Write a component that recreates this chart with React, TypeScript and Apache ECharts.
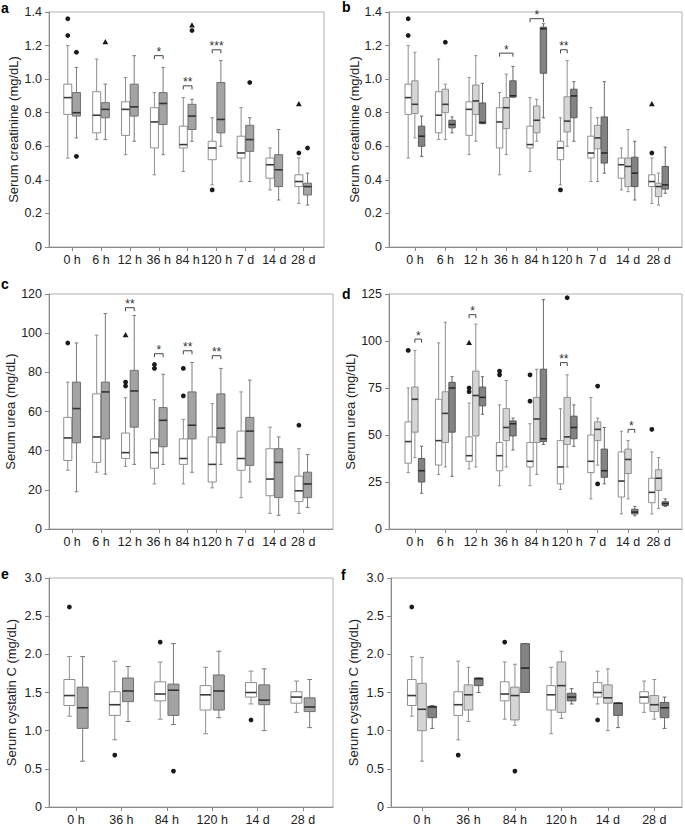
import React, { useEffect, useRef } from "react";
import * as echarts from "echarts";

// ---------- categories / tick labels ----------
const timeCats = ["0 h", "6 h", "12 h", "36 h", "84 h", "120 h", "7 d", "14 d", "28 d"];
const cystatinCats = ["0 h", "36 h", "84 h", "120 h", "14 d", "28 d"];

// ---------- box values: [min, Q1, median, Q3, max] per category ----------
// creatinine (panels a, b)
const creatNoAKI = [
  [0.53, 0.79, 0.89, 0.97, 1.2],
  [0.64, 0.68, 0.785, 0.925, 1.12],
  [0.55, 0.665, 0.82, 0.865, 1.01],
  [0.43, 0.59, 0.745, 0.83, 0.92],
  [0.45, 0.59, 0.61, 0.72, 0.89],
  [0.37, 0.52, 0.59, 0.63, 0.77],
  [0.39, 0.53, 0.56, 0.66, 0.83],
  [0.34, 0.41, 0.49, 0.53, 0.59],
  [0.26, 0.36, 0.39, 0.43, 0.53],
];
const creatAKI = [
  [0.65, 0.78, 0.8, 0.92, 1.07],
  [0.64, 0.77, 0.82, 0.86, 0.97],
  [0.63, 0.78, 0.835, 0.97, 1.14],
  [0.55, 0.73, 0.855, 0.92, 1.07],
  [0.63, 0.7, 0.78, 0.85, 0.88],
  [0.6, 0.68, 0.76, 0.98, 1.11],
  [0.39, 0.57, 0.64, 0.725, 0.77],
  [0.28, 0.36, 0.46, 0.55, 0.7],
  [0.25, 0.31, 0.36, 0.38, 0.44],
];
const creatStage1 = [
  [0.65, 0.795, 0.85, 0.99, 1.16],
  [0.64, 0.8, 0.85, 0.94, 0.97],
  [0.63, 0.79, 0.87, 0.965, 1.14],
  [0.55, 0.705, 0.83, 0.89, 1.03],
  [0.63, 0.68, 0.755, 0.84, 0.88],
  [0.6, 0.685, 0.75, 0.895, 1.11],
  [0.39, 0.585, 0.65, 0.725, 0.77],
  [0.33, 0.36, 0.48, 0.53, 0.7],
  [0.25, 0.3, 0.36, 0.38, 0.44],
];
const creatStage2 = [
  [0.54, 0.6, 0.66, 0.72, 0.78],
  [0.68, 0.71, 0.73, 0.755, 0.775],
  [0.735, 0.735, 0.742, 0.858, 0.975],
  [0.893, 0.893, 0.901, 0.99, 1.076],
  [0.77, 1.035, 1.3, 1.31, 1.33],
  [0.63, 0.77, 0.9, 0.94, 0.985],
  [0.44, 0.5, 0.56, 0.775, 0.985],
  [0.28, 0.36, 0.44, 0.535, 0.63],
  [0.32, 0.345, 0.37, 0.48, 0.595],
];
// urea (panels c, d)
const ureaNoAKI = [
  [30, 35, 46.5, 57, 75],
  [29, 34, 47, 69, 99],
  [32, 36, 39, 49, 67],
  [23, 31, 39, 46, 66],
  [23, 33, 36, 46, 56],
  [21, 24, 33, 47, 64],
  [16, 30, 36, 50, 70],
  [8, 17, 25.5, 41, 52],
  [8, 14, 19.5, 27, 41],
];
const ureaAKI = [
  [19, 44, 61.5, 75, 95],
  [28, 46, 70, 75, 110],
  [33, 52, 70.5, 81, 109],
  [33, 42, 55.5, 62, 79],
  [29, 46, 53, 70, 85],
  [33, 44, 51.5, 69, 82],
  [24, 32.5, 50, 57, 76],
  [7, 16, 34, 41, 47],
  [11, 16, 23, 29, 38],
];
const ureaStage1 = [
  [38, 51.5, 69, 75.5, 95],
  [33, 46, 61.5, 73, 110],
  [33, 49.5, 71, 84, 109],
  [33, 47, 54, 64, 79],
  [29, 46, 58.5, 70, 85],
  [33, 45, 49, 70, 82],
  [34, 47, 53, 57, 59],
  [16, 29.5, 37, 42.5, 47],
  [11, 20.5, 27, 31.5, 38],
];
const ureaStage2 = [
  [19, 25, 31, 37.5, 44],
  [28, 51.5, 75, 78, 81],
  [61, 65.5, 70, 75.5, 81],
  [42, 49.5, 56, 57.5, 59],
  [45, 46.5, 48, 85, 122],
  [44, 48, 54, 60, 66],
  [24, 27.5, 31, 42.5, 54],
  [7, 8, 9, 10.5, 12],
  [12, 12.5, 13.5, 14.5, 16],
];
// cystatin C (panels e, f)
const cysNoAKI = [
  [1.19, 1.33, 1.46, 1.67, 1.97],
  [0.88, 1.2, 1.34, 1.51, 1.91],
  [1.15, 1.39, 1.48, 1.64, 1.9],
  [0.96, 1.27, 1.47, 1.59, 1.83],
  [1.35, 1.44, 1.5, 1.63, 1.78],
  [1.24, 1.36, 1.44, 1.51, 1.65],
];
const cysAKI = [
  [0.6, 1.03, 1.3, 1.57, 1.97],
  [1.12, 1.38, 1.52, 1.69, 1.84],
  [1.08, 1.2, 1.53, 1.61, 2.14],
  [1.17, 1.27, 1.52, 1.73, 2.04],
  [1.0, 1.34, 1.4, 1.6, 1.81],
  [1.04, 1.25, 1.31, 1.43, 1.67],
];
const cysStage1 = [
  [0.6, 1.0, 1.28, 1.62, 1.96],
  [1.12, 1.27, 1.47, 1.6, 1.83],
  [1.07, 1.14, 1.46, 1.57, 1.87],
  [1.16, 1.24, 1.59, 1.9, 2.04],
  [1.0, 1.36, 1.43, 1.6, 1.81],
  [1.15, 1.25, 1.34, 1.46, 1.67],
];
const cysStage2 = [
  [1.03, 1.17, 1.31, 1.32, 1.33],
  [1.5, 1.59, 1.68, 1.69, 1.69],
  [1.5, 1.5, 1.82, 2.14, 2.14],
  [1.35, 1.39, 1.44, 1.49, 1.55],
  [1.04, 1.2, 1.36, 1.36, 1.36],
  [1.03, 1.17, 1.3, 1.37, 1.44],
];

// ---------- outliers: [category, group, value, shape c=circle t=triangle] ----------
const creatOutA = [
  [0, 0, 1.36, "c"], [0, 0, 1.26, "c"], [0, 1, 1.16, "c"], [0, 1, 0.54, "c"],
  [1, 1, 1.22, "t"], [4, 1, 1.32, "t"], [4, 1, 1.29, "c"], [5, 0, 0.34, "c"],
  [6, 1, 0.98, "c"], [8, 0, 0.56, "c"], [8, 0, 0.85, "t"], [8, 1, 0.59, "c"],
];
const creatOutB = [
  [0, 0, 1.36, "c"], [0, 0, 1.26, "c"], [1, 1, 1.22, "c"], [5, 0, 0.34, "c"],
  [8, 0, 0.56, "c"], [8, 0, 0.85, "t"],
];
const ureaOutC = [
  [0, 0, 95, "c"], [2, 0, 99, "t"], [2, 0, 75, "c"], [2, 0, 73, "c"], [3, 0, 84, "c"],
  [3, 0, 82, "c"], [4, 0, 82, "c"], [4, 0, 68, "c"], [8, 0, 53, "c"],
];
const ureaOutD = [
  [0, 0, 95, "c"], [2, 0, 99, "t"], [2, 0, 75, "c"], [2, 0, 73, "c"], [3, 0, 84, "c"],
  [3, 0, 82, "c"], [4, 0, 82, "c"], [4, 0, 68, "c"], [5, 1, 123, "c"], [6, 1, 76, "c"],
  [6, 1, 24, "c"], [8, 0, 53, "c"],
];
const cysOutE = [[0, 0, 2.62, "c"], [1, 0, 0.68, "c"], [2, 0, 2.16, "c"], [2, 1, 0.47, "c"], [4, 0, 1.14, "c"]];
const cysOutF = [[0, 0, 2.62, "c"], [1, 0, 0.68, "c"], [2, 0, 2.16, "c"], [2, 1, 0.47, "c"], [4, 0, 1.14, "c"]];

// ---------- significance brackets: [category, fromGroup, toGroup, value, stars] ----------
const creatSigA = [[3, 0, 1, 1.14, "*"], [4, 0, 1, 0.96, "**"], [5, 0, 1, 1.175, "***"]];
const creatSigB = [[3, 0, 2, 1.155, "*"], [4, 0, 2, 1.36, "*"], [5, 0, 1, 1.175, "**"]];
const ureaSigC = [[2, 0, 1, 113, "**"], [3, 0, 1, 89.5, "*"], [4, 0, 1, 91, "**"], [5, 0, 1, 88.5, "**"]];
const ureaSigD = [[0, 1, 2, 101, "*"], [2, 0, 1, 114, "*"], [5, 0, 1, 88.5, "**"], [7, 1, 2, 53, "*"]];
const cysSigE: any[] = [];
const cysSigF: any[] = [];

// ---------- styling ----------
const FONT = '"Liberation Sans", Arial, Helvetica, sans-serif';
const WHITE = { fill: "#ffffff", stroke: "#8f8f8f", whisker: "#8f8f8f", median: "#3a3a3a" };
const GRAY = { fill: "#a3a3a3", stroke: "#707070", whisker: "#7a7a7a", median: "#333333" };
const LIGHT = { fill: "#d5d5d5", stroke: "#8f8f8f", whisker: "#8f8f8f", median: "#3a3a3a" };
const DARK = { fill: "#838383", stroke: "#5a5a5a", whisker: "#6a6a6a", median: "#2a2a2a" };

const fmt1 = (v: number) => (v === 0 ? "0" : v.toFixed(1));
const fmt0 = (v: number) => String(v);

const panels = [
  {
    letter: "a", lx: 1, ly: 0.5,
    grid: { left: 49, top: 12, width: 275, height: 235 }, xMin: -0.8, xMax: 8.72,
    cats: timeCats, yMax: 1.4, yStep: 0.2, fmt: fmt1, name: "Serum creatinine (mg/dL)", nameGap: 29,
    groups: [creatNoAKI, creatAKI], styles: [WHITE, GRAY], bw: 0.277, sp: 0.3,
    outliers: creatOutA, sig: creatSigA,
  },
  {
    letter: "b", lx: 342, ly: 0,
    grid: { left: 389, top: 12, width: 293, height: 235 }, xMin: -0.85, xMax: 8.77,
    cats: timeCats, yMax: 1.4, yStep: 0.2, fmt: fmt1, name: "Serum creatinine (mg/dL)", nameGap: 28.5,
    groups: [creatNoAKI, creatStage1, creatStage2], styles: [WHITE, LIGHT, DARK], bw: 0.21, sp: 0.22,
    outliers: creatOutB, sig: creatSigB,
  },
  {
    letter: "c", lx: 1, ly: 276.5,
    grid: { left: 49, top: 294, width: 284, height: 235 }, xMin: -0.8, xMax: 9.03,
    cats: timeCats, yMax: 120, yStep: 20, fmt: fmt0, name: "Serum urea (mg/dL)", nameGap: 30,
    groups: [ureaNoAKI, ureaAKI], styles: [WHITE, GRAY], bw: 0.28, sp: 0.3,
    outliers: ureaOutC, sig: ureaSigC,
  },
  {
    letter: "d", lx: 342, ly: 286.5,
    grid: { left: 389, top: 294, width: 293, height: 235 }, xMin: -0.85, xMax: 8.77,
    cats: timeCats, yMax: 125, yStep: 25, fmt: fmt0, name: "Serum urea (mg/dL)", nameGap: 29,
    groups: [ureaNoAKI, ureaStage1, ureaStage2], styles: [WHITE, LIGHT, DARK], bw: 0.21, sp: 0.22,
    outliers: ureaOutD, sig: ureaSigD,
  },
  {
    letter: "e", lx: 1, ly: 567,
    grid: { left: 49, top: 578, width: 284, height: 230 }, xMin: -0.595, xMax: 5.66,
    cats: cystatinCats, yMax: 3.0, yStep: 0.5, fmt: fmt1, name: "Serum cystatin C (mg/dL)", nameGap: 31.5,
    groups: [cysNoAKI, cysAKI], styles: [WHITE, GRAY], bw: 0.242, sp: 0.292,
    outliers: cysOutE, sig: cysSigE,
  },
  {
    letter: "f", lx: 341, ly: 568,
    grid: { left: 391, top: 578, width: 291, height: 230 }, xMin: -0.667, xMax: 5.596,
    cats: cystatinCats, yMax: 3.0, yStep: 0.5, fmt: fmt1, name: "Serum cystatin C (mg/dL)", nameGap: 31.5,
    groups: [cysNoAKI, cysStage1, cysStage2], styles: [WHITE, LIGHT, DARK], bw: 0.187, sp: 0.22,
    outliers: cysOutF, sig: cysSigF,
  },
];

function boxRender(bwUnits: number, st: any) {
  return (params: any, api: any) => {
    const x = api.value(0);
    const unit = api.size([1, 0])[0];
    const half = (bwUnits * unit) / 2;
    const cx = api.coord([x, api.value(3)])[0];
    const yMin = api.coord([x, api.value(1)])[1];
    const yQ1 = api.coord([x, api.value(2)])[1];
    const yMed = api.coord([x, api.value(3)])[1];
    const yQ3 = api.coord([x, api.value(4)])[1];
    const yMax = api.coord([x, api.value(5)])[1];
    const cap = Math.max(1.6, half * 0.45);
    const ls = { stroke: st.whisker, lineWidth: 1 };
    return {
      type: "group",
      children: [
        { type: "line", shape: { x1: cx, y1: yQ3, x2: cx, y2: yMax }, style: ls },
        { type: "line", shape: { x1: cx, y1: yQ1, x2: cx, y2: yMin }, style: ls },
        { type: "line", shape: { x1: cx - cap, y1: yMax, x2: cx + cap, y2: yMax }, style: ls },
        { type: "line", shape: { x1: cx - cap, y1: yMin, x2: cx + cap, y2: yMin }, style: ls },
        {
          type: "rect",
          shape: { x: cx - half, y: yQ3, width: 2 * half, height: Math.max(0.8, yQ1 - yQ3) },
          style: { fill: st.fill, stroke: st.stroke, lineWidth: 1 },
        },
        { type: "line", shape: { x1: cx - half, y1: yMed, x2: cx + half, y2: yMed }, style: { stroke: st.median, lineWidth: 1.6 } },
      ],
    };
  };
}

function buildOption() {
  const grid: any[] = [];
  const xAxis: any[] = [];
  const yAxis: any[] = [];
  const series: any[] = [];
  const graphic: any[] = [];

  panels.forEach((p, i) => {
    const n = p.groups.length;
    const off = (g: number) => (g - (n - 1) / 2) * p.sp;
    const idx = p.cats.map((_, k) => k);
    grid.push({ ...p.grid, show: true, borderColor: "#b0b0b0", borderWidth: 1, backgroundColor: "transparent" });
    xAxis.push({
      type: "value", gridIndex: i, min: p.xMin, max: p.xMax,
      splitLine: { show: false },
      axisLine: { show: true, onZero: false, lineStyle: { color: "#8a8a8a", width: 1 } },
      axisTick: { show: true, customValues: idx, length: 4, lineStyle: { color: "#8a8a8a" } },
      axisLabel: {
        customValues: idx, formatter: (v: number) => p.cats[Math.round(v)] ?? "",
        fontSize: 12.5, color: "#222", fontFamily: FONT, margin: 6,
      },
    });
    yAxis.push({
      type: "value", gridIndex: i, min: 0, max: p.yMax, interval: p.yStep,
      name: p.name, nameLocation: "middle", nameGap: p.nameGap,
      nameTextStyle: { fontSize: 13, color: "#222", fontFamily: FONT },
      splitLine: { show: false },
      axisLine: { show: true, onZero: false, lineStyle: { color: "#8a8a8a", width: 1 } },
      axisTick: { show: true, length: 4, lineStyle: { color: "#8a8a8a" } },
      axisLabel: { formatter: p.fmt, fontSize: 12.5, color: "#222", fontFamily: FONT, margin: 7 },
    });

    p.groups.forEach((arr, g) => {
      series.push({
        type: "custom", xAxisIndex: i, yAxisIndex: i, silent: true, clip: false,
        renderItem: boxRender(p.bw, p.styles[g]),
        encode: { x: 0, y: [1, 2, 3, 4, 5] },
        data: arr.map((s, k) => [k + off(g), ...s]),
      });
    });

    const outs = p.outliers;
    series.push({
      type: "custom", xAxisIndex: i, yAxisIndex: i, silent: true, clip: false,
      encode: { x: 0, y: 1 },
      data: outs.map((o: any) => [o[0] + off(o[1]), o[2]]),
      renderItem: (params: any, api: any) => {
        const pt = api.coord([api.value(0), api.value(1)]);
        const shape = outs[params.dataIndex][3];
        if (shape === "t") {
          return {
            type: "polygon",
            shape: { points: [[pt[0], pt[1] - 3.2], [pt[0] - 2.9, pt[1] + 2], [pt[0] + 2.9, pt[1] + 2]] },
            style: { fill: "#1a1a1a" },
          };
        }
        return { type: "circle", shape: { cx: pt[0], cy: pt[1], r: 2.4 }, style: { fill: "#1a1a1a" } };
      },
    });

    const sig = p.sig;
    if (sig.length) {
      series.push({
        type: "custom", xAxisIndex: i, yAxisIndex: i, silent: true, clip: false,
        encode: { x: [0, 2], y: 1 },
        data: sig.map((s: any) => [s[0] + off(s[1]), s[3], s[0] + off(s[2])]),
        renderItem: (params: any, api: any) => {
          const p1 = api.coord([api.value(0), api.value(1)]);
          const p2 = api.coord([api.value(2), api.value(1)]);
          const y = p1[1];
          return {
            type: "group",
            children: [
              {
                type: "polyline",
                shape: { points: [[p1[0], y + 3.5], [p1[0], y], [p2[0], y], [p2[0], y + 3.5]] },
                style: { stroke: "#444", lineWidth: 1, fill: null },
              },
              {
                type: "text", x: (p1[0] + p2[0]) / 2, y: y + 2.5,
                style: {
                  text: sig[params.dataIndex][4], fill: "#333", fontSize: 12, fontFamily: FONT,
                  align: "center", verticalAlign: "bottom",
                },
              },
            ],
          };
        },
      });
    }

    graphic.push({
      type: "text", x: p.lx, y: p.ly,
      style: { text: p.letter, fill: "#000", fontSize: 14, fontWeight: "bold", fontFamily: FONT, align: "left", verticalAlign: "top" },
    });
  });

  return { animation: false, backgroundColor: "#ffffff", grid, xAxis, yAxis, series, graphic };
}

export default function App() {
  const ref = useRef<HTMLDivElement>(null);
  useEffect(() => {
    if (!ref.current) return;
    const chart = echarts.init(ref.current, undefined, { renderer: "svg" });
    chart.setOption(buildOption() as any);
    return () => chart.dispose();
  }, []);
  return (
    <div
      ref={ref}
      style={{ position: "absolute", left: 0, top: 0, width: 685, height: 826, background: "#fff" }}
    />
  );
}
